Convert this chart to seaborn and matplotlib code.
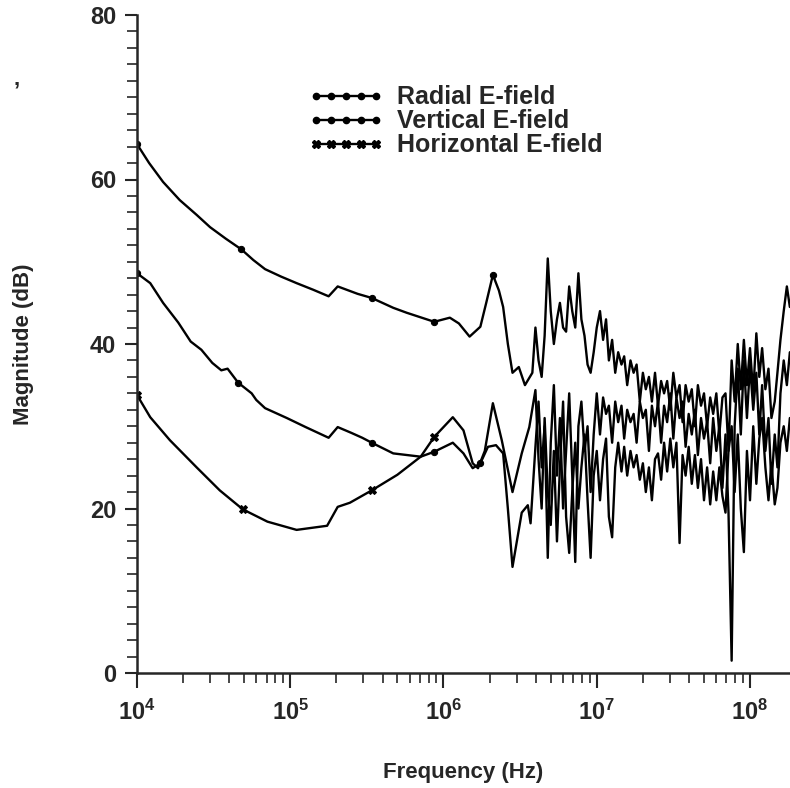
import numpy as np
import pandas as pd
import matplotlib
matplotlib.use("Agg")
import matplotlib.pyplot as plt
from matplotlib.lines import Line2D
from matplotlib.ticker import MultipleLocator, LogLocator, FuncFormatter, NullFormatter
import seaborn as sns

# ---------------- data ----------------
radial_freq_lf = [1.0e4, 1.2e4, 1.48e4, 1.9e4, 2.45e4, 3.0e4, 3.8e4, 4.8e4, 5.75e4, 6.85e4,
                  8.7e4, 1.1e5, 1.41e5, 1.78e5, 2.04e5, 2.75e5, 3.4e5, 4.7e5, 5.75e5, 8.7e5,
                  1.1e6, 1.26e6, 1.48e6, 1.74e6, 1.9e6, 2.1e6, 2.3e6, 2.45e6, 2.63e6, 2.82e6,
                  3.1e6, 3.4e6, 3.8e6]
radial_db_lf = [64.3, 62.0, 59.7, 57.5, 55.7, 54.2, 52.8, 51.5, 50.2, 49.1,
                48.2, 47.4, 46.6, 45.8, 47.0, 46.1, 45.6, 44.4, 43.8, 42.7,
                43.2, 42.5, 40.9, 42.1, 45.0, 48.4, 46.5, 44.5, 40.0, 36.5,
                37.2, 35.0, 36.5]

vertical_freq_lf = [1.0e4, 1.22e4, 1.48e4, 1.86e4, 2.24e4, 2.63e4, 3.1e4, 3.55e4, 3.9e4, 4.57e4,
                    5.6e4, 6.0e4, 6.85e4, 9.5e4, 1.26e5, 1.78e5, 2.04e5, 2.5e5, 2.95e5, 3.4e5,
                    4.7e5, 7.1e5, 8.7e5, 1.15e6, 1.35e6, 1.55e6, 1.74e6, 1.95e6, 2.2e6, 2.45e6,
                    2.63e6, 2.82e6, 3.24e6, 3.55e6, 3.7e6]
vertical_db_lf = [48.6, 47.4, 45.0, 42.6, 40.3, 39.3, 37.7, 36.8, 37.0, 35.3,
                  34.0, 33.2, 32.2, 31.0, 29.9, 28.6, 29.9, 29.2, 28.6, 28.0,
                  26.7, 26.3, 26.9, 28.0, 26.7, 24.9, 25.5, 27.5, 27.7, 26.7,
                  20.0, 12.9, 19.5, 20.4, 18.2]

horizontal_freq_lf = [1.0e4, 1.22e4, 1.64e4, 2.45e4, 3.47e4, 4.9e4, 7.1e4, 1.1e5, 1.74e5, 2.04e5,
                      2.45e5, 3.4e5, 5.0e5, 7.1e5, 8.7e5, 1.15e6, 1.35e6, 1.55e6, 1.68e6, 1.86e6,
                      2.1e6, 2.4e6, 2.82e6, 3.24e6, 3.63e6]
horizontal_db_lf = [33.8, 31.1, 28.3, 25.0, 22.2, 19.9, 18.4, 17.4, 17.9, 20.2,
                    20.7, 22.2, 24.1, 26.3, 28.7, 31.1, 29.5, 25.5, 24.9, 27.0,
                    32.8, 28.3, 22.0, 26.7, 29.9]

# high-frequency (noisy) part, common frequency list
freq_hf = [3.98e6, 4.17e6, 4.37e6, 4.57e6, 4.79e6, 5.01e6, 5.25e6, 5.50e6, 5.75e6, 6.03e6,
           6.31e6, 6.61e6, 6.92e6, 7.24e6, 7.59e6, 7.94e6, 8.32e6, 8.71e6, 9.12e6, 9.55e6,
           1.00e7, 1.05e7, 1.10e7, 1.15e7, 1.20e7, 1.26e7, 1.32e7, 1.38e7, 1.45e7, 1.51e7,
           1.58e7, 1.66e7, 1.74e7, 1.82e7, 1.91e7, 2.00e7, 2.09e7, 2.19e7, 2.29e7, 2.40e7,
           2.51e7, 2.63e7, 2.75e7, 2.88e7, 3.02e7, 3.16e7, 3.31e7, 3.47e7, 3.63e7, 3.80e7,
           3.98e7, 4.17e7, 4.37e7, 4.57e7, 4.79e7, 5.01e7, 5.25e7, 5.50e7, 5.75e7, 6.03e7,
           6.31e7, 6.61e7, 6.92e7, 7.24e7, 7.59e7, 7.94e7, 8.32e7, 8.71e7, 9.12e7, 9.55e7,
           1.00e8, 1.05e8, 1.10e8, 1.15e8, 1.20e8, 1.26e8, 1.32e8, 1.38e8, 1.45e8, 1.51e8,
           1.58e8, 1.66e8, 1.74e8, 1.82e8]

radial_db_hf = [42.0, 38.0, 36.0, 41.0, 50.4, 44.0, 40.0, 43.0, 45.0, 42.0,
                41.5, 47.0, 44.0, 42.0, 48.6, 43.0, 41.0, 37.5, 36.5, 39.0,
                42.0, 44.0, 40.5, 43.0, 38.0, 40.5, 36.5, 39.0, 37.5, 38.5,
                35.0, 38.0, 36.5, 37.5, 33.0, 36.5, 34.5, 36.0, 33.0, 36.5,
                32.5, 35.5, 34.0, 35.5, 32.0, 36.5, 33.5, 35.0, 30.5, 35.0,
                33.0, 34.5, 30.0, 35.0, 32.5, 34.0, 30.0, 33.5, 31.5, 34.0,
                29.0, 33.5, 34.0, 27.0, 38.0, 33.0, 40.0, 34.5, 40.5, 35.0,
                39.5, 34.0, 41.3, 36.0, 39.5, 34.5, 37.0, 31.0, 33.0, 36.5,
                40.5, 44.0, 47.0, 44.5]

vertical_db_hf = [27.5, 33.0, 25.0, 30.0, 14.0, 28.0, 35.0, 24.0, 31.0, 20.0,
                  27.0, 34.0, 24.0, 13.5, 30.0, 33.0, 27.0, 30.0, 22.0, 29.0,
                  34.0, 29.0, 33.5, 31.5, 32.5, 28.0, 33.0, 30.5, 32.5, 28.5,
                  32.0, 30.5, 31.5, 28.0, 33.0, 31.0, 32.0, 27.0, 32.5, 30.0,
                  33.0, 28.0, 32.5, 30.5, 34.0, 28.5, 33.5, 31.0, 33.0, 27.5,
                  31.5, 29.0, 32.0, 26.5, 31.0, 28.5, 30.5, 25.5, 31.0, 27.0,
                  30.0, 22.5, 29.0, 19.5, 1.5, 30.0, 37.0, 29.0, 38.0, 31.0,
                  37.5, 32.0, 36.5, 29.0, 35.0, 27.0, 31.0, 23.0, 29.0, 25.0,
                  34.0, 38.0, 35.0, 39.0]

horizontal_db_hf = [34.4, 26.0, 20.0, 31.0, 22.0, 18.0, 27.0, 16.0, 25.0, 33.0,
                    19.0, 14.6, 22.0, 28.0, 20.0, 25.0, 29.0, 21.0, 14.0, 24.0,
                    27.0, 21.0, 26.0, 28.5, 19.0, 16.5, 25.0, 28.0, 24.5, 27.5,
                    24.0, 27.0, 25.0, 26.5, 23.5, 25.5, 22.0, 25.0, 21.0, 26.0,
                    26.7, 23.5, 28.0, 24.5, 28.5, 25.0, 28.0, 15.8, 26.5, 24.0,
                    27.5, 23.0, 26.5, 22.5, 26.0, 21.0, 25.0, 20.5, 24.5, 21.0,
                    25.0, 21.5, 19.5, 27.0, 30.0, 22.0, 29.0, 20.0, 14.7, 27.0,
                    21.0, 30.0, 23.0, 28.5, 31.0, 25.0, 21.0, 25.5, 20.5, 22.5,
                    28.0, 30.0, 27.0, 31.0]

series_labels = ["Radial E-field", "Vertical E-field", "Horizontal E-field"]

# ---------------- style ----------------
sns.set_style("ticks")
plt.rcParams["font.family"] = ["Liberation Sans", "DejaVu Sans"]
plt.rcParams["font.weight"] = "bold"
plt.rcParams["axes.labelweight"] = "bold"
plt.rcParams["mathtext.fontset"] = "custom"
plt.rcParams["mathtext.rm"] = "Liberation Sans:bold"
plt.rcParams["mathtext.bf"] = "Liberation Sans:bold"
plt.rcParams["mathtext.it"] = "Liberation Sans:bold"

fig = plt.figure(figsize=(7.9, 7.88), dpi=100)
ax = fig.add_axes([137 / 790, 1 - 673 / 788, 653 / 790, 658 / 788])

all_series = [
    (series_labels[0], radial_freq_lf + freq_hf, radial_db_lf + radial_db_hf, "o", 4.5, [0, 7, 16, 19, 25]),
    (series_labels[1], vertical_freq_lf + freq_hf, vertical_db_lf + vertical_db_hf, "o", 4.5, [0, 9, 19, 22, 26]),
    (series_labels[2], horizontal_freq_lf + freq_hf, horizontal_db_lf + horizontal_db_hf, "X", 5.5, [0, 5, 11, 14]),
]

for label, f, d, mk, ms, marks in all_series:
    df = pd.DataFrame({"freq": f, "db": d})
    sns.lineplot(data=df, x="freq", y="db", ax=ax, color="black", lw=1.7,
                 estimator=None, sort=False, legend=False,
                 marker=mk, markersize=ms, markevery=marks,
                 markeredgecolor="black", markerfacecolor="black")

ax.set_xscale("log")
ax.set_xlim(1e4, 1.824e8)
ax.set_ylim(0, 80)

ax.yaxis.set_major_locator(MultipleLocator(20))
ax.yaxis.set_minor_locator(MultipleLocator(2))
ax.xaxis.set_major_locator(LogLocator(base=10, numticks=10))
ax.xaxis.set_minor_locator(LogLocator(base=10, subs=np.arange(2, 10), numticks=100))
ax.xaxis.set_major_formatter(FuncFormatter(lambda v, p: r"$\mathbf{10^{%d}}$" % int(round(np.log10(v)))))
ax.xaxis.set_minor_formatter(NullFormatter())

ax.tick_params(axis="x", which="major", direction="out", length=11, width=1.5, labelsize=17, pad=8)
ax.tick_params(axis="x", which="minor", direction="out", length=7, width=1.2)
ax.tick_params(axis="y", which="major", direction="out", length=9, width=1.5, labelsize=17, pad=6)
ax.tick_params(axis="y", which="minor", direction="out", length=7, width=1.2)

for s in ["top", "right"]:
    ax.spines[s].set_visible(False)
for s in ["left", "bottom"]:
    ax.spines[s].set_linewidth(1.8)

ax.set_xlabel("Frequency (Hz)", fontsize=16)
ax.set_ylabel("Magnitude (dB)", fontsize=16)
ax.xaxis.set_label_coords(0.5, -0.135)
ax.yaxis.set_label_coords(-0.158, 0.5)

handles = [
    Line2D([], [], color="black", lw=1.7, marker="o", markersize=4.5),
    Line2D([], [], color="black", lw=1.7, marker="o", markersize=4.5),
    Line2D([], [], color="black", lw=1.7, marker="X", markersize=5.5),
]
ax.legend(handles, series_labels, loc="upper left", bbox_to_anchor=(0.262, 0.893),
          frameon=False, prop={"size": 18, "weight": "bold"}, numpoints=5, handlelength=3.0,
          handletextpad=0.55, labelspacing=0.0, borderpad=0, borderaxespad=0)

fig.text(14 / 790, 1 - 84 / 788, ",", fontsize=16, fontweight="bold")

fig.savefig("out.png", dpi=100)
